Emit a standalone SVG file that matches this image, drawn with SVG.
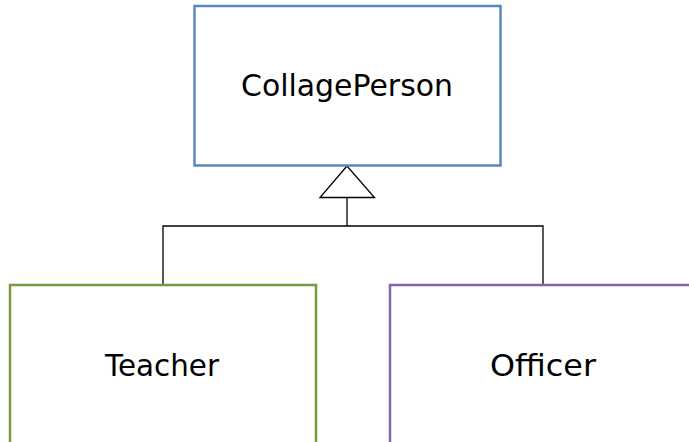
<svg xmlns="http://www.w3.org/2000/svg" width="689" height="442" viewBox="0 0 689 442">
<style>
.lbl{font-family:"DejaVu Sans",sans-serif;font-size:29.5px;fill:#000;text-anchor:middle}
.box{fill:#fff;stroke-width:2.5}
.conn{fill:none;stroke:#000;stroke-width:1.3}
</style>
<rect width="689" height="442" fill="#fff"/>
<g id="connectors">
<polyline class="conn" points="163,285 163,226 543,226 543,285"/>
<line class="conn" x1="347" y1="226" x2="347" y2="197.5"/>
<polygon class="conn" style="fill:#fff" points="347,166 320,197.5 374.5,197.5"/>
</g>
<g id="CollagePerson">
<rect class="box" x="194.5" y="6" width="306" height="159.5" stroke="#5a86c0"/>
<text class="lbl" x="347" y="96" textLength="212" lengthAdjust="spacingAndGlyphs">CollagePerson</text>
</g>
<g id="Teacher">
<rect class="box" x="10" y="285" width="306" height="170" stroke="#7a9a3c"/>
<text class="lbl" x="162" y="376" textLength="114" lengthAdjust="spacingAndGlyphs">Teacher</text>
</g>
<g id="Officer">
<rect class="box" x="390" y="285" width="320" height="170" stroke="#8467ab"/>
<text class="lbl" x="543" y="376" textLength="106" lengthAdjust="spacingAndGlyphs">Officer</text>
</g>
</svg>
